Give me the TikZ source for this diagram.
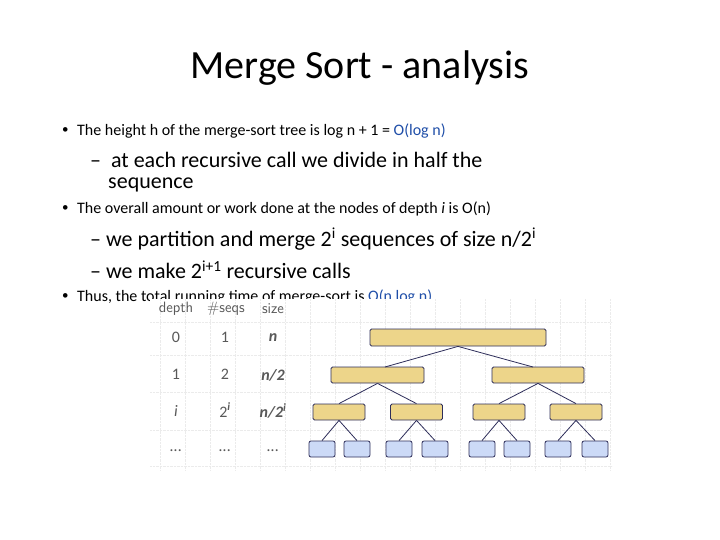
\documentclass[tikz,border=0pt]{standalone}
\usepackage{fontspec}
\setmainfont{Carlito}
\definecolor{boxy}{HTML}{EDD58A}
\definecolor{boxb}{HTML}{CCDAF7}
\definecolor{edg}{HTML}{2E2E5A}
\definecolor{olink}{HTML}{1F4EA8}
\begin{document}
\begin{tikzpicture}[x=1pt,y=-1pt,
 txt/.style={anchor=west,inner sep=0pt,font=\fontsize{16}{18}\selectfont},
 sub/.style={anchor=west,inner sep=0pt,font=\fontsize{22}{24}\selectfont},
 yb/.style={draw=edg,fill=boxy,rounded corners=1.5,line width=0.8pt},
 bb/.style={draw=edg,fill=boxb,rounded corners=2,line width=0.8pt},
 tab/.style={font=\fontsize{16}{17}\selectfont\itshape,text=black!65,inner sep=0pt},
 hd/.style={font=\sffamily\fontsize{15}{16}\selectfont,text=black!65,inner sep=0pt},
 ed/.style={draw=edg,line width=0.8pt}]
\useasboundingbox (0,0) rectangle (720,540);
\fill[white] (0,0) rectangle (720,540);
\node[inner sep=0pt,font=\fontsize{40}{44}\selectfont] (title) at (360,68) {Merge Sort - analysis};
\node[txt,font=\fontsize{13}{18}\selectfont] (b1) at (62,131) {•};
\node[txt] (t1) at (77,131) {The height h of the merge-sort tree is log n + 1 = \textcolor{olink}{O(log n)}};
\node[sub] (s1) at (90,160) {–\ \ at each recursive call we divide in half the};
\node[sub] (s1b) at (108,185) {sequence};
\node[txt,font=\fontsize{13}{18}\selectfont] (b2) at (62,209) {•};
\node[txt] (t2) at (77,209) {The overall amount or work done at the nodes of depth \textit{i} is O(n)};
\node[sub] (s2) at (90,239) {– we partition and merge 2\textsuperscript{i} sequences of size n/2\textsuperscript{i}};
\node[sub] (s3) at (90,270) {– we make 2\textsuperscript{i+1} recursive calls};
\node[txt,font=\fontsize{13}{18}\selectfont] (b3) at (62,297) {•};
\node[txt] (t3) at (77,297) {Thus, the total running time of merge-sort is \textcolor{olink}{O(n log n)}};
% image region
\fill[white] (150,299) rectangle (612,472);
\foreach \x in {160,185,210,235,260,285,310,335,360,385,410,435,460,485,510,535,560,585,610}
  \draw[black!8,densely dotted] (\x,299) -- (\x,470);
\foreach \y in {322,355,392,430,466}
  \draw[black!8,densely dotted] (150,\y) -- (612,\y);
\node[hd] (h1) at (176,309) {depth};
\node[hd] (h2) at (226,309) {\#seqs};
\node[hd] (h3) at (273,309) {size};
\node[tab,font=\fontsize{16}{17}\selectfont] (r01) at (176,337) {0};
\node[tab,font=\fontsize{16}{17}\selectfont] (r02) at (225,337) {1};
\node[tab,font=\fontsize{16}{17}\selectfont\bfseries\itshape] (r03) at (273,338) {n};
\node[tab,font=\fontsize{16}{17}\selectfont] (r11) at (176,374) {1};
\node[tab,font=\fontsize{16}{17}\selectfont] (r12) at (225,374) {2};
\node[tab,font=\fontsize{16}{17}\selectfont\bfseries\itshape] (r13) at (273,375) {n/2};
\node[tab] (r21) at (176,411) {i};
\node[tab,font=\fontsize{16}{17}\selectfont] (r22) at (225,410) {2\textsuperscript{\itshape\bfseries i}};
\node[tab,font=\fontsize{16}{17}\selectfont\bfseries\itshape] (r23) at (273,411) {n/2\textsuperscript{i}};
\node[tab] (r31) at (176,451) {...};
\node[tab] (r32) at (225,451) {...};
\node[tab] (r33) at (273,451) {...};
% tree
\node[yb,minimum width=176,minimum height=17,inner sep=0pt] (n0) at (458,337.5) {};
\node[yb,minimum width=93,minimum height=16,inner sep=0pt] (n1) at (377.5,375) {};
\node[yb,minimum width=92,minimum height=16,inner sep=0pt] (n2) at (538,375) {};
\foreach \c/\nm in {339/a,416.5/b,499/c,576/d}
  \node[yb,minimum width=52,minimum height=16,inner sep=0pt] (m\nm) at (\c,412) {};
\foreach \c/\nm in {322/1,357/2,399/3,435/4,482/5,517/6,558/7,595/8}
  \node[bb,minimum width=26,minimum height=16,inner sep=0pt] (l\nm) at (\c,449) {};
\draw[ed] (n0.south) -- (385,367);
\draw[ed] (n0.south) -- (533,367);
\draw[ed] (n1.south) -- (ma.north);
\draw[ed] (n1.south) -- (mb.north);
\draw[ed] (n2.south) -- (mc.north);
\draw[ed] (n2.south) -- (md.north);
\draw[ed] (ma.south) -- (l1.north); \draw[ed] (ma.south) -- (l2.north);
\draw[ed] (mb.south) -- (l3.north); \draw[ed] (mb.south) -- (l4.north);
\draw[ed] (mc.south) -- (l5.north); \draw[ed] (mc.south) -- (l6.north);
\draw[ed] (md.south) -- (l7.north); \draw[ed] (md.south) -- (l8.north);
\end{tikzpicture}
\end{document}
